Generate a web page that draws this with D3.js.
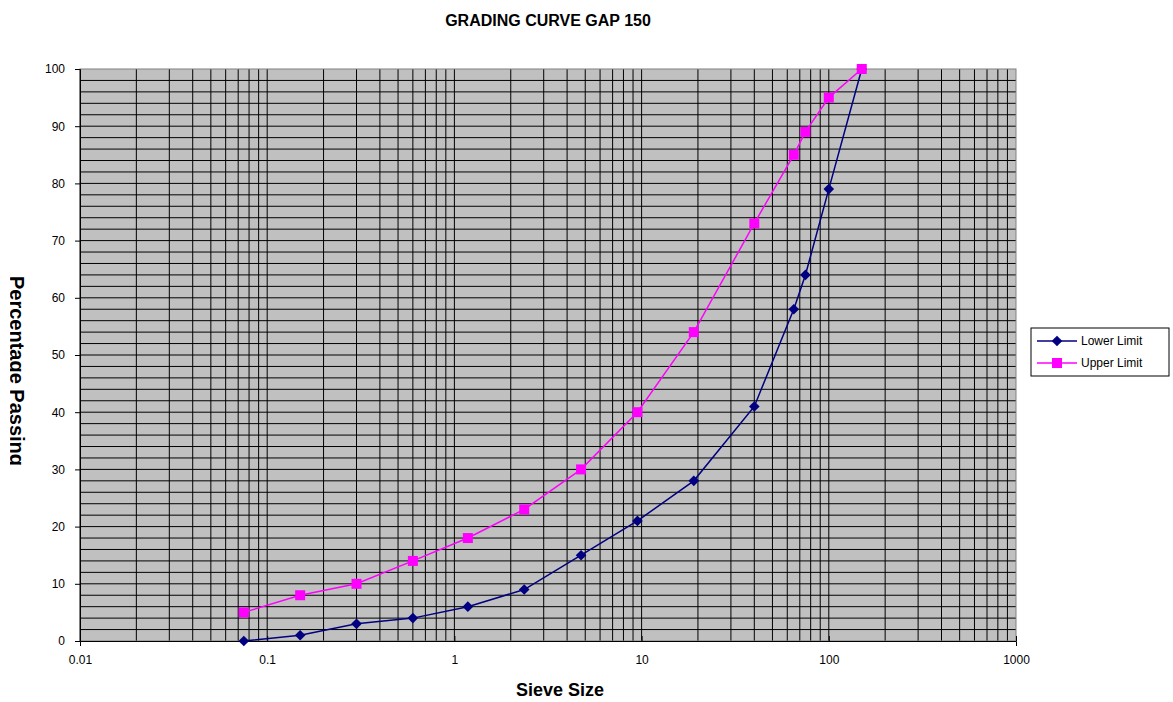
<!DOCTYPE html>
<html>
<head>
<meta charset="utf-8">
<script src="https://cdn.jsdelivr.net/npm/d3@7"></script>
<style>
  body { margin: 0; background: #fff; }
  text { font-family: Arial, "Liberation Sans", sans-serif; }
</style>
</head>
<body>
<script>
const svgWidth = 1173
const svgHeight = 702

const margin = { top: 69, right: 157, bottom: 61, left: 80 }
const chartWidth = svgWidth - margin.left - margin.right
const chartHeight = svgHeight - margin.top - margin.bottom

// sieve sizes (mm)
const sieves = [0.075, 0.15, 0.3, 0.6, 1.18, 2.36, 4.75, 9.5, 19, 40, 65, 75, 100, 150]
const lowerLimit = [0, 1, 3, 4, 6, 9, 15, 21, 28, 41, 58, 64, 79, 100]
const upperLimit = [5, 8, 10, 14, 18, 23, 30, 40, 54, 73, 85, 89, 95, 100]
const xTicks = [0.01, 0.1, 1, 10, 100, 1000]
const yTicks = [0, 10, 20, 30, 40, 50, 60, 70, 80, 90, 100]
const seriesNames = ["Lower Limit", "Upper Limit"]

const svg = d3.select("body").append("svg")
  .attr("width", svgWidth)
  .attr("height", svgHeight)

const x = d3.scaleLog().domain([0.01, 1000]).range([0, chartWidth])
const y = d3.scaleLinear().domain([0, 100]).range([chartHeight, 0])

const chartG = svg.append("g")
  .attr("transform", `translate(${margin.left}, ${margin.top})`)

chartG.append("rect")
  .attr("width", chartWidth)
  .attr("height", chartHeight)
  .attr("fill", "#c0c0c0")

// minor + major vertical grid
const xGrid = []
for (let e = -2; e < 3; e++) {
  for (let m = 1; m < 10; m++) xGrid.push(m * Math.pow(10, e))
}
chartG.append("g").selectAll("line")
  .data(xGrid)
  .enter()
  .append("line")
  .attr("x1", d => x(d)).attr("x2", d => x(d))
  .attr("y1", 0).attr("y2", chartHeight)
  .attr("stroke", "#000")
  .attr("stroke-width", 1)

const yGrid = d3.range(2, 100, 2)
chartG.append("g").selectAll("line")
  .data(yGrid)
  .enter()
  .append("line")
  .attr("x1", 0).attr("x2", chartWidth)
  .attr("y1", d => y(d)).attr("y2", d => y(d))
  .attr("stroke", "#000")
  .attr("stroke-width", 1)

// border
chartG.append("rect")
  .attr("width", chartWidth)
  .attr("height", chartHeight)
  .attr("fill", "none")
  .attr("stroke", "#808080")

// axes
const yAxis = d3.axisLeft(y).tickValues(yTicks).tickSize(5).tickPadding(10).tickFormat(d3.format("d"))
const xAxis = d3.axisBottom(x).tickValues(xTicks).tickSize(5).tickPadding(9).tickFormat(d => String(d))

const yG = chartG.append("g").call(yAxis)
const xG = chartG.append("g")
  .attr("transform", `translate(0, ${chartHeight})`)
  .call(xAxis)
xG.select(".tick line").remove()
xG.selectAll(".tick line").attr("transform", "translate(0,-5)")

;[yG, xG].forEach(g => {
  g.select(".domain").attr("stroke", "#000")
  g.selectAll(".tick line").attr("stroke", "#000")
  g.selectAll("text").attr("font-size", 12).attr("fill", "#000")
    .attr("font-family", "Arial, 'Liberation Sans', sans-serif")
})

// series
const lowerData = sieves.map((s, i) => ({ s, v: lowerLimit[i] }))
const upperData = sieves.map((s, i) => ({ s, v: upperLimit[i] }))

const line = d3.line().x(d => x(d.s)).y(d => y(d.v))

chartG.append("path").datum(lowerData)
  .attr("d", line).attr("fill", "none")
  .attr("stroke", "#000080").attr("stroke-width", 1.5)

chartG.append("path").datum(upperData)
  .attr("d", line).attr("fill", "none")
  .attr("stroke", "#ff00ff").attr("stroke-width", 1.5)

chartG.append("g").selectAll("path")
  .data(lowerData)
  .enter()
  .append("path")
  .attr("d", d3.symbol(d3.symbolDiamond2, 72)())
  .attr("transform", d => `translate(${x(d.s)}, ${y(d.v)})`)
  .attr("fill", "#000080")

chartG.append("g").selectAll("rect")
  .data(upperData)
  .enter()
  .append("rect")
  .attr("x", d => x(d.s) - 5)
  .attr("y", d => y(d.v) - 5)
  .attr("width", 10).attr("height", 10)
  .attr("fill", "#ff00ff")

// titles
svg.append("text")
  .attr("x", 548).attr("y", 26)
  .attr("text-anchor", "middle")
  .attr("font-size", 16).attr("font-weight", "bold")
  .text("GRADING CURVE GAP 150")

svg.append("text")
  .attr("x", 560).attr("y", 696)
  .attr("text-anchor", "middle")
  .attr("font-size", 18).attr("font-weight", "bold")
  .text("Sieve Size")

// the original cuts the descenders of the rotated title
svg.append("clipPath").attr("id", "yclip")
  .append("rect").attr("x", 10).attr("y", 0).attr("width", 40).attr("height", svgHeight)

svg.append("g")
  .attr("clip-path", "url(#yclip)")
  .append("text")
  .attr("transform", "translate(10, 371) rotate(90)")
  .attr("text-anchor", "middle")
  .attr("font-size", 20).attr("font-weight", "bold")
  .text("Percentage Passing")

// legend
const legend = svg.append("g").attr("transform", "translate(1031, 328)")
legend.append("rect")
  .attr("width", 138).attr("height", 48)
  .attr("fill", "#fff").attr("stroke", "#000")

const legendColors = ["#000080", "#ff00ff"]
seriesNames.forEach((name, i) => {
  const ly = 13 + i * 22
  legend.append("line")
    .attr("x1", 6).attr("x2", 46).attr("y1", ly).attr("y2", ly)
    .attr("stroke", legendColors[i]).attr("stroke-width", 1.5)
  if (i === 0) {
    legend.append("path")
      .attr("d", d3.symbol(d3.symbolDiamond2, 72)())
      .attr("transform", `translate(26, ${ly})`)
      .attr("fill", legendColors[i])
  } else {
    legend.append("rect")
      .attr("x", 21).attr("y", ly - 5).attr("width", 10).attr("height", 10)
      .attr("fill", legendColors[i])
  }
  legend.append("text")
    .attr("x", 50).attr("y", ly + 4)
    .attr("font-size", 12)
    .text(name)
})
</script>
</body>
</html>
